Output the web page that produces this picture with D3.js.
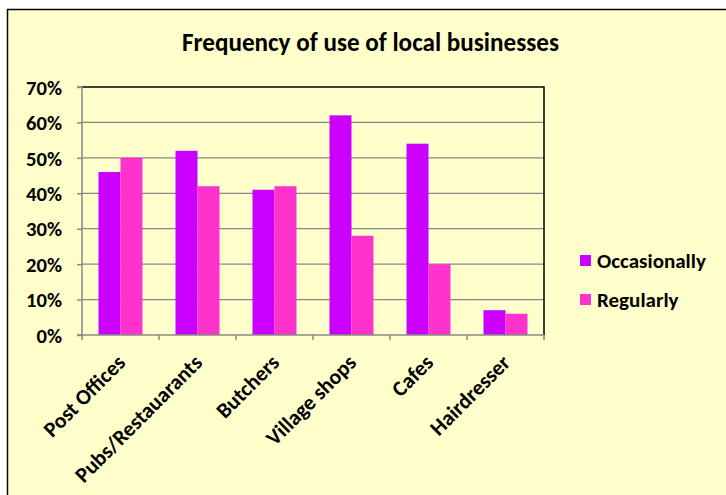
<!DOCTYPE html>
<html><head><meta charset="utf-8">
<script src="https://cdn.jsdelivr.net/npm/d3@7"></script>
<style>body{margin:0;background:#fff;} text{font-family:Carlito,Lato,"Open Sans",sans-serif;font-weight:bold;}</style>
</head><body>
<svg id="c" width="726" height="495"></svg>
<script>
const categories = ["Post Offices","Pubs/Restauarants","Butchers","Village shops","Cafes","Hairdresser"];
const seriesNames = ["Occasionally","Regularly"];
const occasionally = [0.46,0.52,0.41,0.62,0.54,0.07];
const regularly = [0.50,0.42,0.42,0.28,0.20,0.06];
const yTicks = [0,0.1,0.2,0.3,0.4,0.5,0.6,0.7];
const colors = ["#CC00FF","#FF33CC"];

const svg = d3.select("#c");
// fit a font size so that a text selection's first node reaches the target width
function fitSize(sel, target){
  const base = 20;
  sel.attr("font-size", base);
  const w = sel.node().getComputedTextLength();
  return base * target / w;
}

svg.append("rect").attr("x",7.5).attr("y",9.5).attr("width",730).attr("height",500)
  .attr("fill","#FFFFCC").attr("stroke","#000").attr("stroke-width",1.5);

const title = svg.append("text").attr("x",370.5).attr("y",51).attr("text-anchor","middle")
  .text("Frequency of use of local businesses");
title.attr("font-size", fitSize(title, 377));

const m = {left:82, top:87, right:544, bottom:335};
const x = d3.scaleBand().domain(categories).range([m.left,m.right]);
const y = d3.scaleLinear().domain([0,0.7]).range([m.bottom,m.top]);
const bw = x.bandwidth()/3.5;
const x1 = d3.scaleBand().domain(seriesNames).range([0,bw*2]);
const groupOffset = (x.bandwidth()-bw*2)/2;

// gridlines
svg.append("g").selectAll("line").data(yTicks.slice(1,-1)).join("line")
  .attr("x1",m.left).attr("x2",m.right).attr("y1",d=>y(d)).attr("y2",d=>y(d))
  .attr("stroke","#888").attr("stroke-width",1.2);

// plot border top/right
svg.append("path").attr("d",`M${m.left},${m.top}H${m.right}V${m.bottom}`)
  .attr("fill","none").attr("stroke","#000").attr("stroke-width",1.5);

// bars
const data = [occasionally, regularly];
data.forEach((vals,si)=>{
  svg.append("g").selectAll("rect").data(vals).join("rect")
    .attr("x",(d,i)=>x(categories[i]) + groupOffset + x1(seriesNames[si]))
    .attr("y",d=>y(d)).attr("width",bw).attr("height",d=>y(0)-y(d))
    .attr("fill",colors[si]);
});

// y axis
const ya = d3.axisLeft(y).tickValues(yTicks).tickFormat(d3.format(".0%")).tickSize(5).tickPadding(15);
const gy = svg.append("g").attr("transform",`translate(${m.left},0)`).call(ya);
gy.select(".domain").attr("stroke","#888").attr("stroke-width",1.5).attr("d",`M-5,${m.top}H0V${m.bottom}H-5`);
gy.selectAll(".tick line").attr("stroke","#888").attr("stroke-width",1.5);
const yt = gy.selectAll(".tick text").attr("fill","#000").attr("font-family",'Carlito,Lato,"Open Sans",sans-serif').attr("font-weight","bold").attr("dy","0.35em");
const ys = fitSize(gy.selectAll(".tick text").filter((d,i)=>i===7), 36);
yt.attr("font-size", ys);
yt.attr("x", 62 - m.left).attr("text-anchor","end");

// x axis
svg.append("line").attr("x1",m.left).attr("x2",m.right).attr("y1",m.bottom).attr("y2",m.bottom)
  .attr("stroke","#888").attr("stroke-width",1.5);
const bounds = categories.map(c=>x(c)).concat([m.right]);
svg.append("g").selectAll("line").data(bounds).join("line")
  .attr("x1",d=>d).attr("x2",d=>d).attr("y1",m.bottom).attr("y2",m.bottom+5)
  .attr("stroke","#888").attr("stroke-width",1.5);
const xl = svg.append("g").selectAll("text").data(categories).join("text")
  .attr("transform",d=>`translate(${x(d)+x.bandwidth()/2+6},${m.bottom+29}) rotate(-45)`)
  .attr("text-anchor","end").text(d=>d);
const xs = fitSize(xl.filter((d,i)=>i===0), 105);
xl.attr("font-size", xs);

// legend
const lg = svg.append("g");
const legTexts = [];
seriesNames.forEach((s,i)=>{
  const ly = 261 + i*39;
  lg.append("rect").attr("x",580).attr("y",ly-6).attr("width",11).attr("height",11).attr("fill",colors[i]);
  legTexts.push(lg.append("text").attr("x",597).attr("y",ly).attr("dy","0.35em").text(s));
});
const ls = fitSize(legTexts[0], 109);
legTexts.forEach(t=>t.attr("font-size", ls));
</script>
</body></html>
